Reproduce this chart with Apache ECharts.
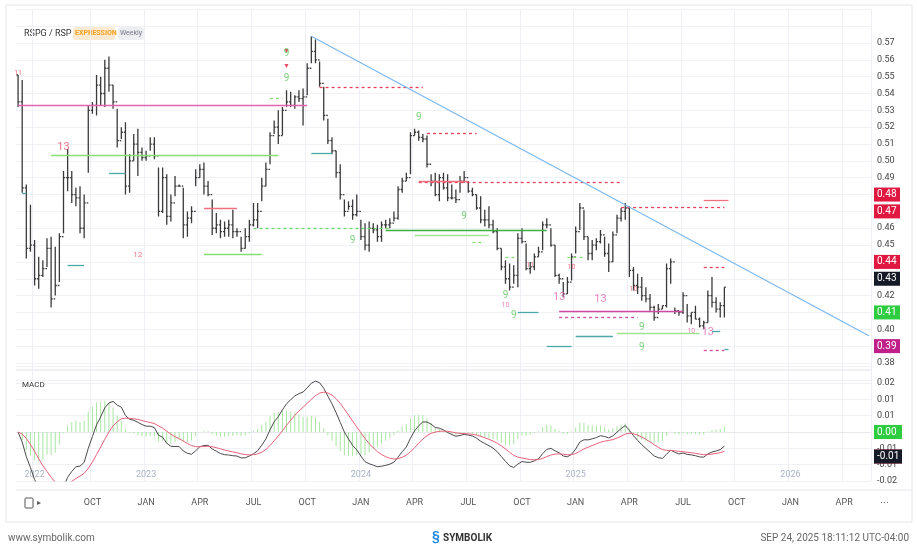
<!DOCTYPE html>
<html><head><meta charset="utf-8">
<script src="https://cdn.jsdelivr.net/npm/echarts@6/dist/echarts.min.js"></script>
<style>html,body{margin:0;padding:0;background:#fff}#c{width:917px;height:552px}</style>
</head><body><div id="c"></div>
<script>
// ---- DATA ----
const startWeek = '2022-06-03';
const totalSlots = 207;
const highs = [0.551,0.548,0.486,0.474,0.453,0.443,0.441,0.454,0.455,0.449,0.457,0.494,0.507,0.494,0.484,0.485,0.480,0.533,0.535,0.551,
0.550,0.560,0.562,0.545,0.531,0.520,0.523,0.504,0.516,0.519,0.508,0.506,0.514,0.514,0.496,0.496,0.492,0.480,0.491,0.486,
0.484,0.470,0.473,0.495,0.498,0.499,0.488,0.477,0.469,0.465,0.464,0.465,0.471,0.460,0.455,0.460,0.465,0.475,0.475,0.490,
0.499,0.517,0.524,0.530,0.532,0.542,0.541,0.539,0.542,0.543,0.558,0.574,0.572,0.559,0.544,0.525,0.514,0.506,0.498,0.477,
0.476,0.477,0.480,0.465,0.463,0.464,0.463,0.462,0.464,0.465,0.466,0.470,0.485,0.490,0.493,0.517,0.519,0.518,0.516,0.515,
0.492,0.493,0.492,0.493,0.492,0.486,0.483,0.491,0.494,0.488,0.484,0.480,0.479,0.471,0.473,0.465,0.460,0.448,0.441,0.439,
0.438,0.457,0.460,0.451,0.440,0.445,0.449,0.464,0.466,0.460,0.450,0.433,0.428,0.431,0.445,0.461,0.475,0.471,0.455,0.453,
0.454,0.459,0.455,0.451,0.458,0.468,0.472,0.475,0.473,0.437,0.433,0.431,0.425,0.421,0.414,0.415,0.414,0.439,0.442,0.413,
0.411,0.422,0.415,0.410,0.414,0.407,0.405,0.423,0.431,0.419,0.416,0.425];
const lows = [0.532,0.481,0.442,0.446,0.426,0.424,0.431,0.437,0.413,0.420,0.428,0.457,0.482,0.475,0.473,0.457,0.454,0.493,0.528,0.527,
0.533,0.532,0.541,0.531,0.508,0.513,0.480,0.481,0.500,0.491,0.500,0.500,0.506,0.501,0.467,0.469,0.462,0.464,0.479,0.485,
0.454,0.455,0.463,0.485,0.490,0.480,0.479,0.456,0.457,0.454,0.455,0.455,0.454,0.455,0.446,0.448,0.452,0.461,0.460,0.476,
0.485,0.498,0.516,0.510,0.515,0.532,0.532,0.531,0.535,0.521,0.539,0.558,0.558,0.544,0.524,0.510,0.504,0.490,0.477,0.467,
0.471,0.465,0.467,0.453,0.447,0.446,0.457,0.452,0.452,0.460,0.460,0.464,0.465,0.481,0.488,0.492,0.515,0.512,0.511,0.496,
0.485,0.479,0.476,0.483,0.476,0.477,0.475,0.481,0.487,0.481,0.479,0.471,0.463,0.461,0.460,0.457,0.447,0.435,0.427,0.423,
0.427,0.425,0.451,0.435,0.433,0.435,0.443,0.447,0.460,0.449,0.431,0.427,0.419,0.421,0.429,0.445,0.459,0.453,0.441,0.441,
0.447,0.451,0.443,0.434,0.440,0.457,0.464,0.465,0.431,0.423,0.421,0.417,0.416,0.411,0.405,0.409,0.412,0.413,0.427,0.409,
0.408,0.409,0.404,0.403,0.406,0.401,0.400,0.404,0.413,0.410,0.407,0.407];
const closes = [0.535,0.484,0.448,0.450,0.430,0.432,0.436,0.448,0.418,0.426,0.455,0.490,0.490,0.480,0.478,0.460,0.475,0.530,0.533,0.545,
0.540,0.555,0.545,0.535,0.512,0.517,0.485,0.500,0.510,0.505,0.502,0.503,0.510,0.503,0.470,0.490,0.467,0.475,0.485,0.485,
0.462,0.466,0.470,0.490,0.495,0.485,0.480,0.460,0.462,0.458,0.460,0.462,0.458,0.458,0.448,0.455,0.462,0.465,0.470,0.485,
0.495,0.515,0.520,0.515,0.530,0.535,0.533,0.538,0.537,0.538,0.555,0.565,0.560,0.546,0.527,0.512,0.506,0.493,0.480,0.470,
0.473,0.468,0.470,0.455,0.450,0.460,0.459,0.455,0.462,0.462,0.463,0.466,0.483,0.488,0.490,0.515,0.517,0.514,0.513,0.498,
0.488,0.480,0.490,0.484,0.478,0.478,0.477,0.488,0.490,0.482,0.480,0.472,0.465,0.465,0.462,0.458,0.448,0.437,0.430,0.425,
0.432,0.454,0.452,0.436,0.437,0.443,0.446,0.462,0.462,0.450,0.432,0.430,0.421,0.428,0.443,0.458,0.472,0.455,0.445,0.450,
0.452,0.456,0.445,0.440,0.456,0.466,0.470,0.472,0.435,0.426,0.425,0.420,0.418,0.413,0.407,0.412,0.414,0.436,0.440,0.411,
0.410,0.420,0.408,0.410,0.406,0.402,0.404,0.420,0.416,0.412,0.414,0.425];
// levels: [startIdx, endIdx, price, colour, dashed]
const levels = [
 [0,70,0.533,'#e066b0',0],[8,63,0.5033,'#86df72',0],[45,53,0.4718,'#f07080',0],[45,59,0.4444,'#86df72',0],
 [12,16,0.438,'#4aa8a8',0],[22,26,0.4928,'#4aa8a8',0],[71,76,0.5045,'#4aa8a8',0],[1,2,0.481,'#4aa8a8',0],
 [57,90,0.4599,'#6fd66a',1],[89,128,0.459,'#3cb043',0],[96,114,0.4557,'#9ee590',0],
 [73,98,0.5438,'#e8405a',1],[99,111,0.5164,'#e8405a',1],[97,146,0.4873,'#e8405a',1],[97,109,0.488,'#f07080',0],
 [146,171,0.4724,'#e8405a',1],[166,172,0.4765,'#f07080',0],[131,161,0.4105,'#d04aa0',0],[131,150,0.407,'#d04aa0',1],
 [145,165,0.3974,'#9ee590',0],[135,144,0.3956,'#4aa8a8',0],[128,134,0.3897,'#4aa8a8',0],[121,126,0.4099,'#4aa8a8',0],
 [166,171,0.4367,'#e8405a',1],[166,171,0.3873,'#d04aa0',1],[168,170,0.399,'#4aa8a8',0],[171,172,0.388,'#4aa8a8',0],
 [61,64,0.537,'#86df72',1],[110,113,0.4515,'#86df72',1],[118,121,0.4428,'#86df72',1],[133,137,0.4428,'#86df72',1]
];
const trend = [[71,0.574],[206,0.3962]];
// counts: [idx, price, text, colour, size]
const counts = [[11,0.508,'13','#e8506a',11],[29,0.444,'12','#e8506a',8],[0,0.552,'11','#e8506a',7],
 [65,0.549,'9','#5cc85a',10],[65,0.556,'▼','#e02040',7],[65,0.565,'▼','#e02040',7],[65,0.564,'9','#5cc85a',10],
 [81,0.453,'9','#5cc85a',10],[97,0.526,'9','#5cc85a',10],[108,0.467,'9','#5cc85a',10],[118,0.420,'9','#5cc85a',10],
 [120,0.408,'9','#5cc85a',10],[131,0.419,'13','#e066b0',11],[141,0.418,'13','#e066b0',11],[151,0.401,'9','#5cc85a',10],
 [151,0.389,'9','#5cc85a',10],[167,0.398,'13','#e066b0',11],[118,0.414,'10','#e066b0',7],[149,0.424,'10','#e8506a',7],
 [163,0.399,'10','#e066b0',7],[124,0.438,'11','#e8506a',7],[134,0.437,'10','#e8506a',7]];
// right-hand price tags: [price, text, colour]
const priceTags = [[0.4765,'0.48','#e0173f'],[0.4725,'0.47','#e0173f'],[0.4367,'0.44','#e0173f'],
 [0.4255,'0.43','#161a26'],[0.4057,'0.41','#2ecc40'],[0.3862,'0.39','#c0208a']];
const macdTags = [[0.0005,'0.00','#2ecc40'],[-0.0100,'-0.01','#e0173f'],[-0.0075,'-0.01','#161a26']];
const monthNames = ['JAN','FEB','MAR','APR','MAY','JUN','JUL','AUG','SEP','OCT','NOV','DEC'];

// ---- BUILD ----
const t0 = Date.parse(startWeek+'T00:00:00Z');
const dates = [];
for (let i=0;i<totalSlots;i++) dates.push(new Date(t0 + i*7*86400000));
const cats = dates.map((d,i)=>String(i));
function isQ(i){ if(i===0) return false; const m=dates[i].getUTCMonth(), p=dates[i-1].getUTCMonth(); return m!==p && m%3===0; }
function isYear(i){ if(i===0) return false; return dates[i].getUTCFullYear()!==dates[i-1].getUTCFullYear() || (i===4); }
const ohlc = closes.map((c,i)=>[i, i===0?highs[0]:closes[i-1], highs[i], lows[i], c]);
function ema(arr,n){const k=2/(n+1);const out=[];let e=arr[0];arr.forEach((v,i)=>{e=i?v*k+e*(1-k):v;out.push(e);});return out;}
const e12=ema(closes,12), e26=ema(closes,26);
const macd=e12.map((v,i)=>v-e26[i]);
const signal=ema(macd,9);
const hist=macd.map((v,i)=>v-signal[i]);

const chart = echarts.init(document.getElementById('c'));
const gridL=16, gridR=46;
const markLines = levels.map(l=>[{coord:[l[0],l[2]],lineStyle:{color:l[3],type:l[4]?[3,3]:'solid',width:1.3}},{coord:[l[1],l[2]]}]);
markLines.push([{coord:trend[0],lineStyle:{color:'#7ab8f0',width:1.2,type:'solid'}},{coord:trend[1]}]);
function tag(t,w){return {yAxis:t[0],lineStyle:{color:'rgba(0,0,0,0)',width:0},label:{show:true,position:'end',distance:3,formatter:t[1],backgroundColor:t[2],color:'#fff',fontSize:10,padding:[2,3,2,3],width:w,fontFamily:'Roboto'}};}
const tagLines = priceTags.map(t=>tag(t,20));
const mTagLines = macdTags.map(t=>tag(t,22));

chart.setOption({
 animation:false,
 textStyle:{fontFamily:'Roboto'},
 grid:[{left:gridL,right:gridR,top:9.3,height:370.5},{left:gridL,right:gridR,top:366.7,height:114.3}],
 xAxis:[
  {type:'category',data:cats,gridIndex:0,boundaryGap:true,axisLine:{show:false},axisTick:{show:false},axisLabel:{show:false},
   splitLine:{show:true,interval:(i)=>isQ(i),lineStyle:{color:'#eef0f5'}}},
  {type:'category',data:cats,gridIndex:1,boundaryGap:true,axisLine:{show:true,lineStyle:{color:'#e6e8ee'}},axisTick:{show:false},
   axisLabel:{interval:(i)=>isQ(i)&&i>5,margin:17,color:'#555',fontSize:9,formatter:(v)=>monthNames[dates[+v].getUTCMonth()]},
   splitLine:{show:true,interval:(i)=>isQ(i),lineStyle:{color:'#eef0f5'}}},
  {type:'category',data:cats,gridIndex:1,boundaryGap:true,position:'bottom',axisLine:{show:false},axisTick:{show:false},
   axisLabel:{inside:true,interval:(i)=>isYear(i),margin:2,color:'#aab2c2',fontSize:9,formatter:(v)=>String(dates[+v].getUTCFullYear())}}
 ],
 yAxis:[
  {type:'value',gridIndex:0,position:'right',min:0.37,max:0.59,interval:0.01,axisLine:{show:false},axisTick:{show:false},
   axisLabel:{color:'#444',fontSize:9,margin:6,formatter:(v)=>(v<0.375||v>0.575)?'':v.toFixed(2)},splitLine:{lineStyle:{color:'#f0f1f5'}}},
  {type:'value',gridIndex:1,position:'right',min:-0.02,max:0.08/3,interval:0.02/3,axisLine:{show:false},axisTick:{show:false},
   axisLabel:{color:'#444',fontSize:9,margin:6,formatter:(v)=>v>0.021?'':(Math.abs(v)<1e-9?'0.00':v.toFixed(2))},splitLine:{lineStyle:{color:'#f0f1f5'}}}
 ],
 series:[
  {type:'custom',xAxisIndex:0,yAxisIndex:0,data:ohlc,clip:true,
   renderItem:(p,api)=>{const x=api.coord([api.value(0),0])[0];const o=api.coord([api.value(0),api.value(1)])[1],h=api.coord([api.value(0),api.value(2)])[1],
     l=api.coord([api.value(0),api.value(3)])[1],c=api.coord([api.value(0),api.value(4)])[1];const st={stroke:'#3a3a3a',lineWidth:1.3};
     return {type:'group',children:[{type:'line',shape:{x1:x,y1:h,x2:x,y2:l},style:st},{type:'line',shape:{x1:x-1.6,y1:o,x2:x,y2:o},style:st},{type:'line',shape:{x1:x,y1:c,x2:x+1.6,y2:c},style:st}]};},
   markLine:{symbol:'none',silent:true,label:{show:false},data:markLines},z:3},
  {type:'line',xAxisIndex:0,yAxisIndex:0,data:[],markLine:{symbol:'none',silent:true,data:tagLines},z:6},
  {type:'scatter',xAxisIndex:0,yAxisIndex:0,symbolSize:0,data:counts.map(c=>({value:[c[0],c[1]],label:{show:true,formatter:c[2],color:c[3],fontSize:c[4],position:'inside'}})),z:4},
  {type:'bar',xAxisIndex:1,yAxisIndex:1,data:hist,barWidth:1,itemStyle:{color:'#a8e6a0'}},
  {type:'line',xAxisIndex:1,yAxisIndex:1,data:[],markLine:{symbol:'none',silent:true,data:mTagLines},z:6},
  {type:'line',xAxisIndex:1,yAxisIndex:1,data:macd,showSymbol:false,lineStyle:{color:'#4a4a4a',width:1},clip:true},
  {type:'line',xAxisIndex:1,yAxisIndex:1,data:signal,showSymbol:false,lineStyle:{color:'#e8607a',width:1},clip:true}
 ],
 graphic:[
  {type:'rect',shape:{x:6,y:5,width:906,height:517},style:{fill:'none',stroke:'#e4e6ea',lineWidth:1},z:-1},
  {type:'line',shape:{x1:16,y1:370,x2:871,y2:370},style:{stroke:'#dfe2e8',lineWidth:1}},
  {type:'line',shape:{x1:16,y1:490,x2:912,y2:490},style:{stroke:'#e6e8ee',lineWidth:1}},
  {type:'text',left:24,top:29,style:{text:'RSPG / RSP',fill:'#333',fontSize:9,fontFamily:'Roboto'}},
  {type:'rect',shape:{x:73,y:27,width:42,height:13,r:3},style:{fill:'#fde9cf'}},
  {type:'text',left:75,top:30,style:{text:'EXPRESSION',fill:'#f5a020',fontSize:7,fontWeight:'bold',fontFamily:'Roboto'}},
  {type:'rect',shape:{x:118,y:27,width:26,height:13,r:3},style:{fill:'#eceef2'}},
  {type:'text',left:120,top:30,style:{text:'Weekly',fill:'#778',fontSize:7,fontFamily:'Roboto'}},
  {type:'text',left:22,top:381,z:10,style:{text:'MACD',fill:'#333',fontSize:8,fontFamily:'Roboto',backgroundColor:'rgba(255,255,255,0.8)'}},
  {type:'rect',shape:{x:25,y:498,width:8,height:10,r:1},style:{fill:'none',stroke:'#555'}},
  {type:'text',left:37,top:499,style:{text:'▸',fill:'#555',fontSize:8}},
  {type:'text',left:880,top:498,style:{text:'···',fill:'#555',fontSize:9}},
  {type:'text',left:8,top:533,style:{text:'www.symbolik.com',fill:'#666',fontSize:10,fontFamily:'Roboto'}},
  {type:'text',left:432,top:530,style:{text:'§',fill:'#1e88e5',fontSize:14,fontWeight:'bold'}},
  {type:'text',left:443,top:533,style:{text:'SYMBOLIK',fill:'#333',fontSize:10,fontWeight:'bold',fontFamily:'Roboto'}},
  {type:'text',right:8,top:533,style:{text:'SEP 24, 2025 18:11:12 UTC-04:00',fill:'#666',fontSize:10,fontFamily:'Roboto'}}
 ]
});
</script></body></html>
